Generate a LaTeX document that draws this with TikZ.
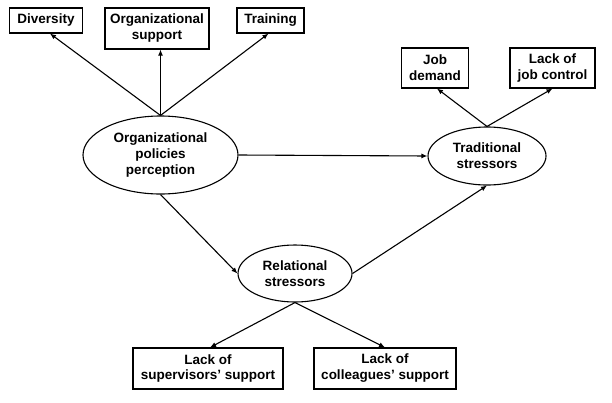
\documentclass[tikz,border=0pt]{standalone}
\usepackage{fontspec}
\setmainfont{Liberation Sans}
\usetikzlibrary{shapes.geometric,arrows.meta}
\tikzset{
  box/.style={draw, line width=1.1pt, rectangle, inner sep=0pt, align=center, font=\fontsize{13.5}{16}\selectfont\bfseries},
  oval/.style={draw, line width=1.1pt, ellipse, inner sep=0pt, align=center, font=\fontsize{13.5}{16}\selectfont\bfseries},
  conn/.style={line width=1.1pt, -{Latex[length=6pt,width=5pt]}},
}
\begin{document}
\begin{tikzpicture}[x=1pt,y=-1pt]
\useasboundingbox[fill=white] (0,0) rectangle (612,402);
\node[box, minimum width=73pt, minimum height=25pt] (div) at (46,20.5) {Diversity};
\node[box, minimum width=104pt, minimum height=41pt] (orgsup) at (157,28.5) {Organizational\\support};
\node[box, minimum width=67pt, minimum height=25pt] (train) at (270.5,20.5) {Training};
\node[oval, minimum width=155pt, minimum height=78pt] (opp) at (160.5,155) {Organizational\\policies\\perception};
\node[box, minimum width=67pt, minimum height=40pt] (jd) at (435,68) {Job\\demand};
\node[box, minimum width=85pt, minimum height=40pt] (ljc) at (552.5,68) {Lack of\\job control};
\node[oval, minimum width=118pt, minimum height=58pt] (trad) at (487,156) {Traditional\\stressors};
\node[oval, minimum width=114pt, minimum height=57pt] (rel) at (295,273.5) {Relational\\stressors};
\node[box, minimum width=150pt, minimum height=41pt] (sup) at (208,368.5) {Lack of\\supervisors’ support};
\node[box, minimum width=142pt, minimum height=41pt] (col) at (385,368.5) {Lack of\\colleagues’ support};

\draw[conn] (opp.north) -- ([xshift=4pt]div.south);
\draw[conn] (opp.north) -- (opp.north |- orgsup.south);
\draw[conn] (opp.north) -- ([xshift=-2pt]train.south);
\draw[conn] (trad.north) -- ([xshift=2pt]jd.south);
\draw[conn] (trad.north) -- (ljc.south);
\draw[conn] (opp.east) -- (trad.west);
\draw[conn] (opp.south) -- (rel.west);
\draw[conn] (rel.east) -- (trad.south);
\draw[conn] (rel.south) -- ([xshift=2pt]sup.north);
\draw[conn] (rel.south) -- (col.north);
\end{tikzpicture}
\end{document}
